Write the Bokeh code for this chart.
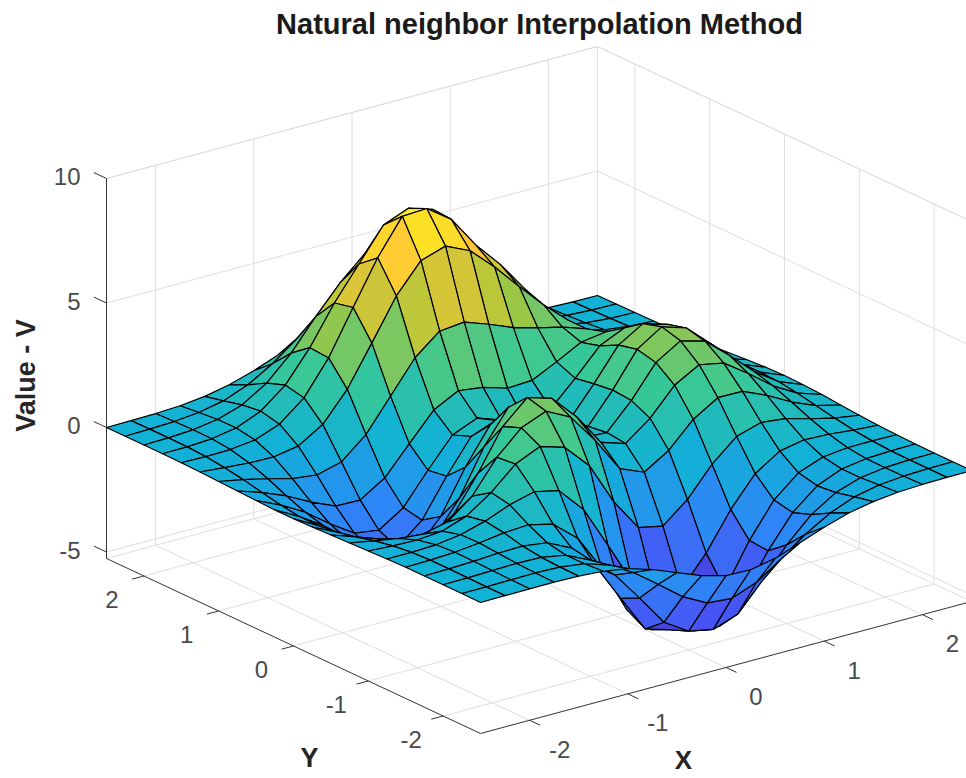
import numpy as np
from bokeh.plotting import figure
from bokeh.models import ColumnDataSource, Range1d
from bokeh.core.properties import value
from bokeh.embed import file_html
from bokeh.resources import INLINE

title_text = "Natural neighbor Interpolation Method"
x_label = "X"
y_label = "Y"
z_label = "Value - V"

x_vals = [-2.5,-2.25,-2,-1.75,-1.5,-1.25,-1,-.75,-.5,-.25,0,.25,.5,.75,1,1.25,1.5,1.75,2,2.25,2.5]
y_vals = [-2.5,-2.25,-2,-1.75,-1.5,-1.25,-1,-.75,-.5,-.25,0,.25,.5,.75,1,1.25,1.5,1.75,2,2.25,2.5]

# one row per y value (bottom row y=-2.5), values along x
z_rows = [
[0,.01,.02,.02,0,-.07,-.23,-.53,-.92,-1.31,-1.57,-1.6,-1.41,-1.06,-.69,-.38,-.19,-.08,-.03,-.01,0],
[.01,.01,.03,.04,.01,-.12,-.44,-1,-1.74,-2.5,-3.02,-3.1,-2.72,-2.05,-1.32,-.74,-.35,-.14,-.05,-.01,0],
[.01,.02,.05,.07,.05,-.13,-.59,-1.45,-2.64,-3.88,-4.5,-4.7,-4.35,-3.27,-2.1,-1.15,-.53,-.2,-.06,-.01,0],
[.01,.03,.07,.13,.15,.02,-.46,-1.48,-3.01,-4.5,-4.8,-5.1,-5.2,-4.24,-2.69,-1.42,-.61,-.2,-.05,0,.01],
[.01,.03,.08,.19,.33,.39,.15,-.68,-2.18,-4.07,-5.15,-5.26,-5.2,-4.31,-2.63,-1.27,-.44,-.07,.04,.05,.03],
[-.01,-.01,.03,.17,.45,.84,1.1,.88,-.14,-1.85,-3.61,-4.6,-4.4,-3.22,-1.74,-.56,.08,.27,.23,.13,.06],
[-.04,-.1,-.13,-.04,.3,.98,1.86,2.3,2.0,1,-.72,-2.02,-2.22,-1.42,-.27,.58,.88,.77,.5,.26,.11],
[-.07,-.25,-.42,-.51,-.28,.49,1.78,2.7,3.1,2.6,1.4,0,-.41,.2,1.18,1.79,1.78,1.35,.82,.41,.17],
[-.1,-.44,-.8,-1.16,-1.21,-.6,.8,2.4,3.3,3.0,2,.7,.39,1.14,2.2,2.76,2.56,1.88,1.12,.56,.24],
[-.13,-.6,-1.14,-1.78,-2.16,-1.84,-.56,1.23,2.56,2.63,1.58,.53,.48,1.5,2.76,3.37,3.09,2.25,1.34,.67,.28],
[-.15,-.69,-1.33,-2.14,-2.77,-2.71,-1.65,.06,1.48,1.75,.98,.19,.38,1.57,2.94,3.58,3.27,2.37,1.41,.7,.3],
[-.15,-.68,-1.32,-2.16,-2.88,-2.98,-2.15,-.65,.68,1.06,.52,-.03,.28,1.47,2.76,3.36,3.06,2.22,1.32,.66,.28],
[-.12,-.57,-1.12,-1.85,-2.49,-2.64,-2,-.76,.39,.8,.46,.09,.38,1.34,2.38,2.83,2.56,1.85,1.09,.55,.23],
[-.09,-.42,-.82,-1.33,-1.76,-1.78,-1.16,-.05,1.04,1.55,1.42,1.12,1.17,1.65,2.17,2.32,1.99,1.4,.82,.41,.17],
[-.06,-.25,-.48,-.74,-.86,-.6,.23,1.51,2.79,3.59,3.69,3.34,2.94,2.66,2.43,2.09,1.58,1.04,.58,.28,.11],
[-.03,-.12,-.2,-.22,-.05,.55,1.7,3.29,4.92,6.07,6.39,5.94,5.02,3.97,2.97,2.09,1.35,.79,.41,.19,.07],
[-.01,-.03,-.01,.11,.48,1.27,2.61,4.37,6.1,7.5,7.55,6.85,5.55,4.5,3.25,2.05,1.19,.62,.29,.12,.05],
[0,.01,.07,.24,.65,1.43,2.67,4.2,5.5,6.8,7.2,6.9,5.7,4.3,2.96,1.78,.96,.47,.21,.08,.03],
[0,.02,.08,.23,.55,1.16,2.1,3.3,4.4,5.3,5.7,5.4,4.5,3.37,2.21,1.29,.68,.32,.13,.05,.02],
[0,.02,.06,.16,.36,.74,1.32,2.07,2.84,3.43,3.65,3.43,2.84,2.09,1.36,.79,.41,.19,.08,.03,.01],
[0,.01,.03,.08,.19,.39,.69,1.07,1.47,1.77,1.88,1.77,1.47,1.08,.7,.4,.21,.09,.04,.01,0],
]

x_ticks = [-2, -1, 0, 1, 2]
y_ticks = [-2, -1, 0, 1, 2]
z_ticks = [-5, 0, 5, 10]
x_lim = (-2.5, 2.5)
y_lim = (-2.5, 2.5)
z_lim = (-5.26, 10)

parula = np.array([
 [0.2422,0.1504,0.6603],[0.2810,0.3228,0.9579],[0.1786,0.5289,0.9682],[0.0689,0.6948,0.8394],
 [0.2161,0.7843,0.5923],[0.6720,0.7793,0.2227],[0.9970,0.7659,0.2199],[0.9769,0.9839,0.0805]])
clim = (-5.8, 7.8)

def proj(x, y, z):
    x, y, z = np.asarray(x, float), np.asarray(y, float), np.asarray(z, float)
    dx, dy = x - x_lim[0], y - y_lim[0]
    return 480 + 98.2*dx - 74.8*dy, 602 - 26.4*dx - 35.0*dy - 24.9*z

def cmap(v):
    t = np.clip((v - clim[0])/(clim[1]-clim[0]), 0, 1)*7
    rgb = [np.interp(t, range(8), parula[:, k]) for k in range(3)]
    return "#%02x%02x%02x" % tuple(int(round(c*255)) for c in rgb)

W, H = 966, 778
p = figure(width=W, height=H, output_backend="svg", toolbar_location=None,
           x_range=Range1d(0, W), y_range=Range1d(H, 0), min_border=0)
p.axis.visible = False
p.grid.visible = False
p.outline_line_color = None

# grid lines on floor and walls
zl, zh = z_lim
gx, gy = [], []
def seg(a, b):
    sx, sy = proj([a[0], b[0]], [a[1], b[1]], [a[2], b[2]])
    gx.append(list(sx)); gy.append(list(sy))
xl, xh = x_lim
yl, yh = y_lim
for t in x_ticks:
    seg((t, yl, zl), (t, yh, zl)); seg((t, yh, zl), (t, yh, zh))
for t in y_ticks:
    seg((xl, t, zl), (xh, t, zl)); seg((xh, t, zl), (xh, t, zh))
for t in z_ticks:
    seg((xl, yh, t), (xh, yh, t)); seg((xh, yh, t), (xh, yl, t))
seg((xl, yh, zl), (xh, yh, zl)); seg((xh, yh, zl), (xh, yl, zl))
seg((xh, yh, zl), (xh, yh, zh)); seg((xh, yl, zl), (xh, yl, zh))
seg((xl, yh, zh), (xh, yh, zh)); seg((xh, yh, zh), (xh, yl, zh))
p.multi_line(gx, gy, line_color="#dedede", line_width=1)

# axis lines and ticks
ax, ay = [], []
gx, gy = ax, ay
seg((xl, yh, zl), (xl, yh, zh)); seg((xl, yh, zl), (xl, yl, zl)); seg((xl, yl, zl), (xh, yl, zl))
for t in x_ticks:
    seg((t, yl, zl), (t, yl-0.14, zl))
for t in y_ticks:
    seg((xl, t, zl), (xl-0.12, t, zl))
for t in z_ticks:
    seg((xl, yh, t), (xl, yh+0.17, t))
p.multi_line(ax, ay, line_color="#333333", line_width=1)

# surface, painted from the far corner to the near one
Z = np.array(z_rows)
X = np.array(x_vals); Y = np.array(y_vals)
cells = []
for j in range(len(Y)-1):
    for i in range(len(X)-1):
        cx = [X[i], X[i+1], X[i+1], X[i]]
        cy = [Y[j], Y[j], Y[j+1], Y[j+1]]
        cz = [Z[j,i], Z[j,i+1], Z[j+1,i+1], Z[j+1,i]]
        depth = 0.609*np.mean(cx) + 0.793*np.mean(cy)
        cells.append((depth, cx, cy, cz))
cells.sort(key=lambda c: -c[0])
xs, ys, colors = [], [], []
for _, cx, cy, cz in cells:
    sx, sy = proj(cx, cy, cz)
    xs.append(list(sx)); ys.append(list(sy)); colors.append(cmap(np.mean(cz)))
src = ColumnDataSource(dict(xs=xs, ys=ys, color=colors))
p.patches("xs", "ys", source=src, fill_color="color", line_color="#000000", line_width=1.2)

# tick labels
font = value("Liberation Sans")
def labels(sx, sy, txt, size, align="center", color="#4a4a4a", style="normal", angle=0):
    p.text(list(sx), list(sy), text=txt, text_font=font, text_font_size=size, text_color=color,
           text_align=align, text_baseline="middle", text_font_style=style, angle=angle)

sx, sy = proj(x_ticks, [yl]*5, [zl]*5)
labels(sx+30, sy+29, [str(t) for t in x_ticks], "24px")
sx, sy = proj([xl]*5, y_ticks, [zl]*5)
labels(sx-32, sy+24, [str(t) for t in y_ticks], "24px")
sx, sy = proj([xl]*4, [yh]*4, z_ticks)
labels(sx-26, sy-2, [str(t) for t in z_ticks], "24px", align="right")

labels([539], [23], [title_text], "29px", color="#1a1a1a", style="bold")
labels([25], [375], [z_label], "27px", color="#262626", style="bold", angle=np.pi/2)
labels([309], [757], [y_label], "27px", color="#262626", style="bold")
labels([683], [759], [x_label], "26px", color="#262626", style="bold")

open("out.html", "w").write(file_html(p, INLINE))
